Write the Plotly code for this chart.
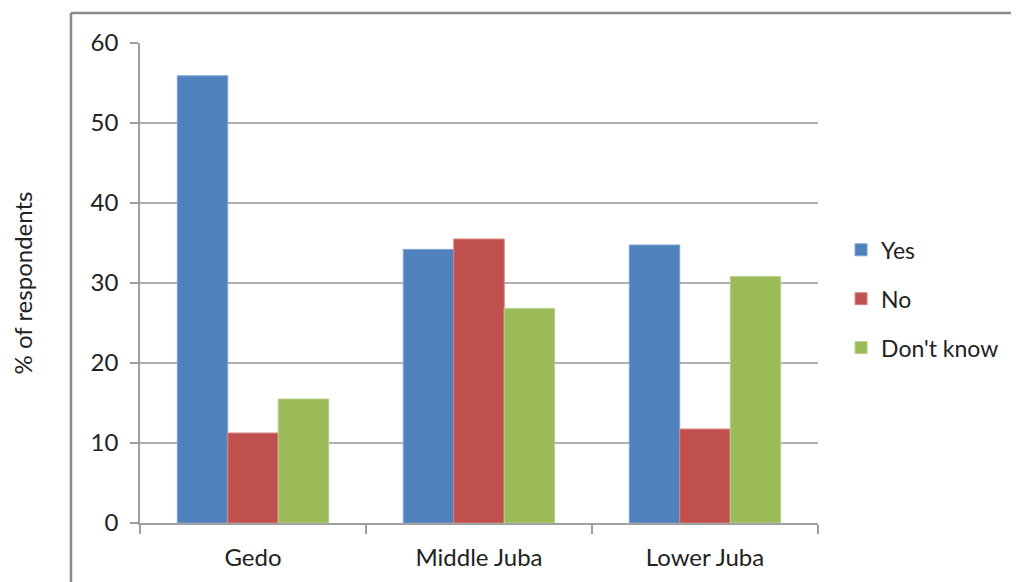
import plotly.graph_objects as go

categories = ["Gedo", "Middle Juba", "Lower Juba"]
yes_vals = [55.9, 34.2, 34.75]
no_vals = [11.25, 35.5, 11.75]
dk_vals = [15.5, 26.8, 30.8]
series_names = ["Yes", "No", "Don't know"]
colors = ["#4F81BD", "#C0504D", "#9BBB59"]
edge_colors = ["#7FA3D3", "#D98583", "#B9D28B"]
y_ticks = [0, 10, 20, 30, 40, 50, 60]

fig = go.Figure()
for name, vals, c, ec in zip(series_names, [yes_vals, no_vals, dk_vals], colors, edge_colors):
    fig.add_trace(go.Bar(x=categories, y=vals, name=name, legendgroup=name,
                         marker=dict(color=c, line=dict(color=ec, width=1))))

font_family = "Lato, 'Open Sans', sans-serif"
fs = 24
fig.update_layout(
    width=1019, height=582,
    margin=dict(l=132, r=209, t=35, b=67, autoexpand=False),
    paper_bgcolor="white", plot_bgcolor="white",
    barmode="group", bargap=0.33, bargroupgap=0,
    font=dict(family=font_family, size=fs, color="#222"),
    legend=dict(x=1.034, y=0.467, yanchor="middle", xanchor="left",
                font=dict(size=23), itemwidth=30, tracegroupgap=16,
                traceorder="grouped"),
    showlegend=True,
)
fig.update_yaxes(range=[0, 60], tickvals=y_ticks, showgrid=True, gridcolor="#B0B0B0",
                 gridwidth=1.5, showline=True, linecolor="#A0A0A0", linewidth=1.5,
                 ticks="outside", ticklen=8, tickcolor="#A0A0A0", tickwidth=1.5,
                 ticklabelstandoff=7, automargin=False,
                 title=dict(text="% of respondents", font=dict(size=fs), standoff=58),
                 zeroline=False, tickfont=dict(size=fs))
fig.update_xaxes(showline=True, linecolor="#A0A0A0", linewidth=1.5, ticks="outside",
                 tickson="boundaries", ticklen=9, tickcolor="#A0A0A0", tickwidth=1.5,
                 ticklabelstandoff=12, automargin=False,
                 showgrid=False, tickfont=dict(size=fs))

# outer frame lines (partial chart border)
fig.add_shape(type="line", xref="paper", yref="paper", x0=-0.1018, x1=-0.1018,
              y0=1.0625, y1=-0.3, line=dict(color="#8A8A8A", width=2.5))
fig.add_shape(type="line", xref="paper", yref="paper", x0=-0.1018, x1=1.4,
              y0=1.0625, y1=1.0625, line=dict(color="#8A8A8A", width=2.5))

fig.write_html("out.html")
